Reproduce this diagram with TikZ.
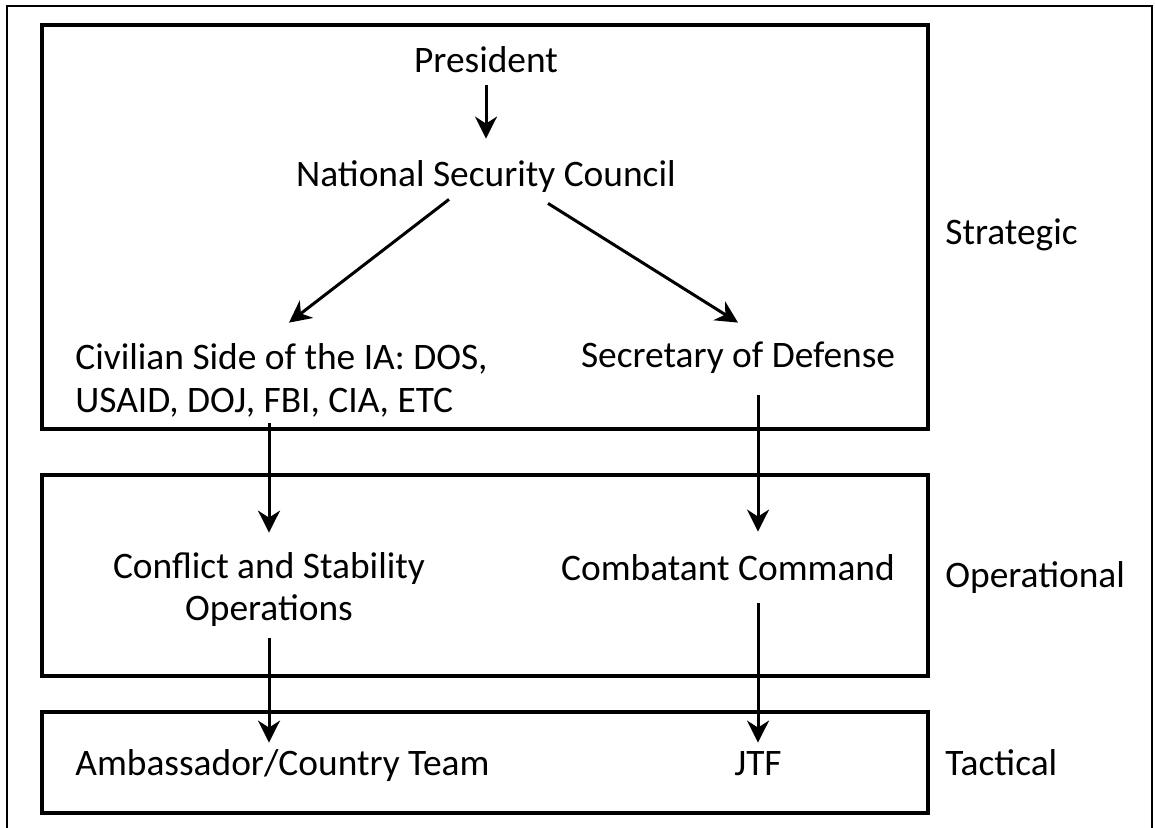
\documentclass[tikz,border=0pt]{standalone}
\usepackage{fontspec}
\setmainfont{Carlito}
\usetikzlibrary{arrows.meta}

\begin{document}
\begin{tikzpicture}[x=0.5pt, y=-0.5pt,
		txt/.style={font=\fontsize{18.7}{21}\selectfont, inner sep=0pt},
		one/.style={txt, text height=13pt, text depth=4pt},
		arr/.style={line width=1.5pt, -{Stealth[length=11pt, width=11pt, inset=3.5pt]}},
		tier/.style={line width=2pt}]
		%%%%% START %%%%%
		
		\useasboundingbox (0, 0) rectangle (1155, 828);
		\draw[line width=1pt] (7, 840) -- (7, 6) -- (1152, 6) -- (1152, 840);
		
		\draw[tier] (42, 25) rectangle (928, 429);
		\draw[tier] (42, 475) rectangle (928, 676);
		\draw[tier] (42, 712) rectangle (928, 813);
		
		\node[one, anchor=base] (pres) at (486, 73) {President};
		\node[one, anchor=base] (nsc) at (486, 187) {National Security Council};
		\node[txt, anchor=base west, align=left] (civ) at (75, 412) {Civilian Side of the IA: DOS,\\USAID, DOJ, FBI, CIA, ETC};
		\node[one, anchor=base] (sec) at (738, 367) {Secretary of Defense};
		\node[txt, anchor=base, align=center] (conf) at (269, 620) {Conflict and Stability\\Operations};
		\node[one, anchor=base] (comb) at (728, 580) {Combatant Command};
		\node[one, anchor=base west] (amb) at (75, 775) {Ambassador/Country Team};
		\node[one, anchor=base] (jtf) at (758, 775) {JTF};
		
		\node[one, anchor=base west] (strat) at (945, 245) {Strategic};
		\node[one, anchor=base west] (oper) at (945, 587) {Operational};
		\node[one, anchor=base west] (tact) at (945, 775) {Tactical};
		
		% strategic level
		\draw[arr, shorten <=2pt, shorten >=11pt] (pres.south) -- (nsc.north);
		\draw[arr] ([xshift=-18.5pt, yshift=-2pt]nsc.south) -- ([xshift=107pt, yshift=10.5pt]civ.north west);
		\draw[arr] ([xshift=31pt, yshift=-4pt]nsc.south) -- ([yshift=9pt]sec.north);
		
		% down to operational and tactical
		\draw[arr, shorten <=3pt, shorten >=9.5pt] (civ.south -| conf.north) -- (conf.north);
		\draw[arr, shorten <=6pt, shorten >=3pt] (conf.south) -- (conf.south |- amb.north);
		\draw[arr, shorten <=10pt, shorten >=11pt] ([xshift=10pt]sec.south) -- ([xshift=15pt]comb.north);
		\draw[arr, shorten <=7.5pt, shorten >=3pt] ([xshift=15pt]comb.south) -- (jtf.north);
		
		%%%%% END %%%%%
	\end{tikzpicture}
\end{document}
